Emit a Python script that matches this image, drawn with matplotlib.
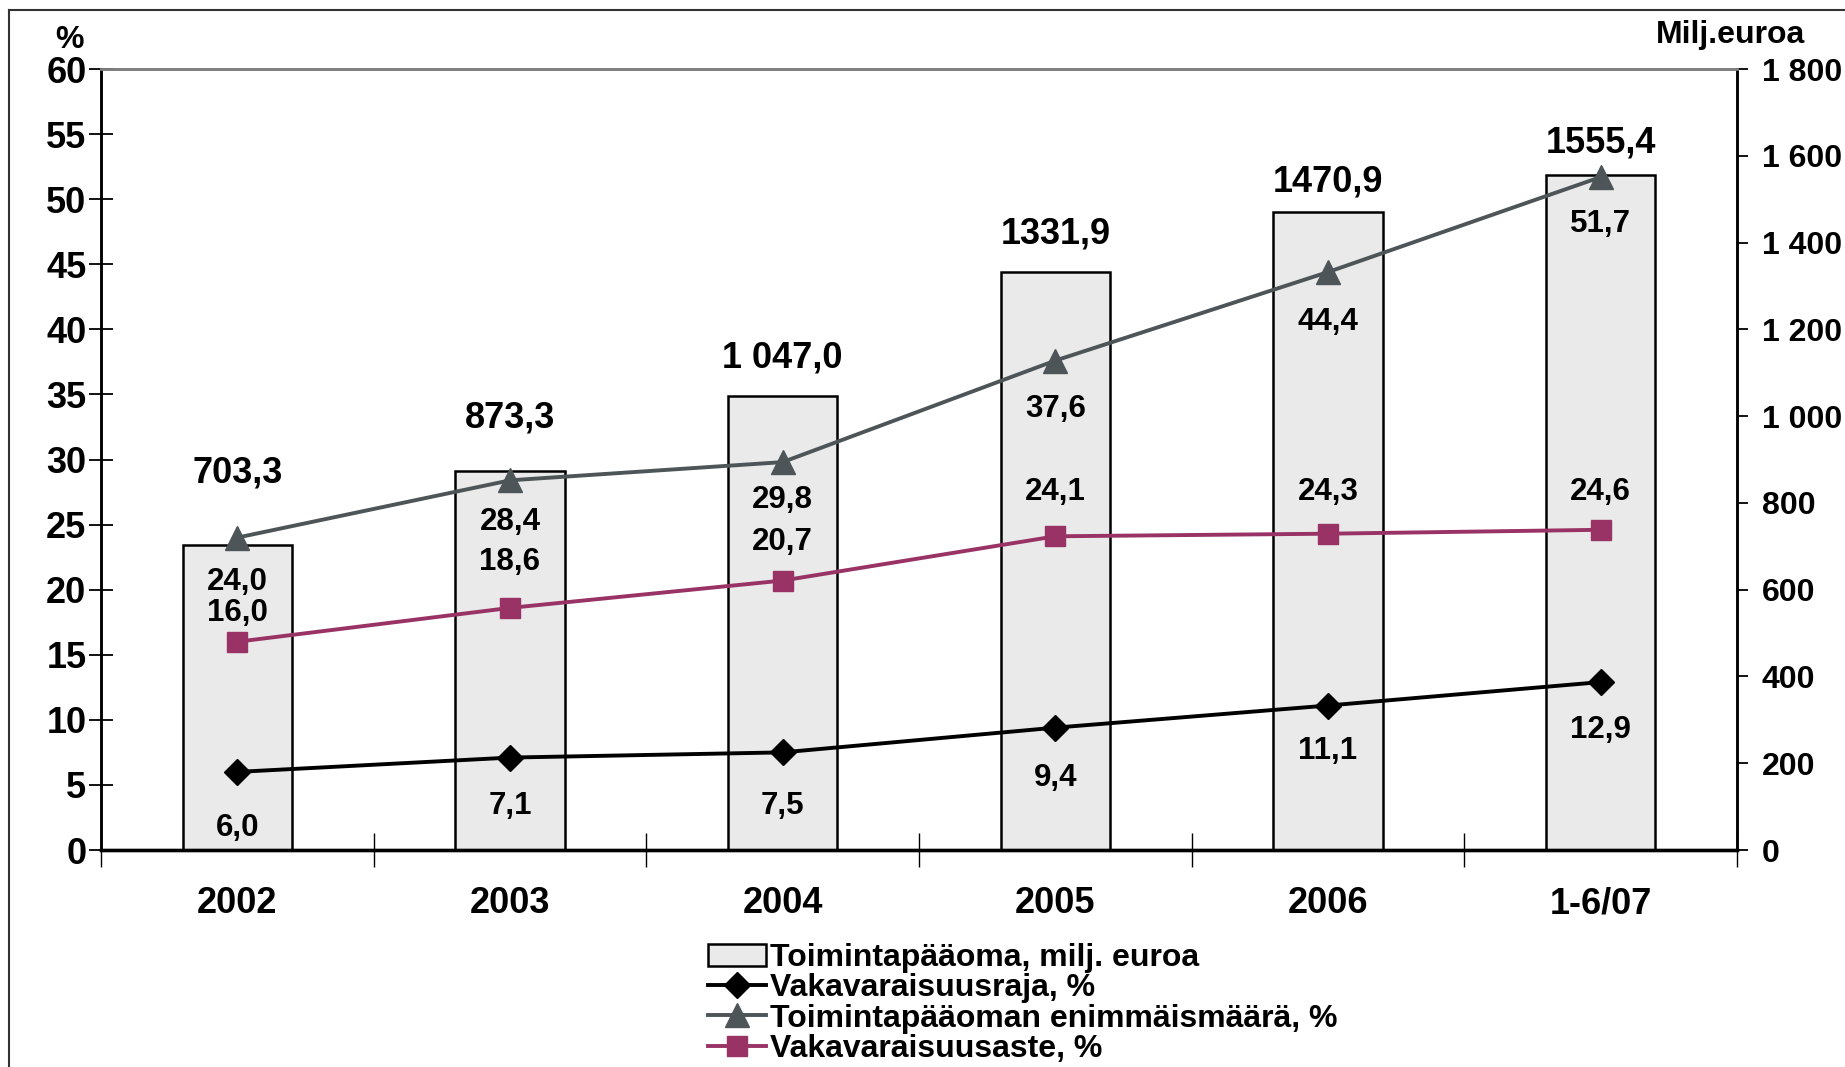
import matplotlib
matplotlib.use("Agg")
import matplotlib.pyplot as plt
from matplotlib.lines import Line2D
from matplotlib.patches import Patch
import numpy as np

plt.rcParams['font.family'] = ['Liberation Sans', 'DejaVu Sans']
plt.rcParams['font.weight'] = 'bold'

categories = ["2002", "2003", "2004", "2005", "2006", "1-6/07"]
toimintapaaoma = [703.3, 873.3, 1047.0, 1331.9, 1470.9, 1555.4]
toimintapaaoma_labels = ["703,3", "873,3", "1 047,0", "1331,9", "1470,9", "1555,4"]
vakavaraisuusraja = [6.0, 7.1, 7.5, 9.4, 11.1, 12.9]
enimmaismaara = [24.0, 28.4, 29.8, 37.6, 44.4, 51.7]
vakavaraisuusaste = [16.0, 18.6, 20.7, 24.1, 24.3, 24.6]
left_ticks = list(range(0, 61, 5))
right_ticks = list(range(0, 1801, 200))

# label offsets (in % units) -- layout only
bar_lab_off = [5.5, 4.1, 2.9, 2.9, 2.3, 2.45]
tri_lab_off = [-3.4, -3.2, -2.9, -3.7, -3.8, -3.6]
sq_lab_off = [2.2, 3.5, 3.0, 3.4, 3.2, 2.9]
dia_lab_off = [-4.3, -3.75, -4.15, -3.9, -3.5, -3.7]

def fmt(v):
    return f"{v:.1f}".replace(".", ",")

W, H = 1845, 1067
fig = plt.figure(figsize=(W / 100, H / 100), dpi=100)
ax = fig.add_axes([101 / W, 1 - 850 / H, (1737 - 101) / W, (850 - 69) / H])
ax2 = ax.twinx()

x = np.arange(len(categories))
ax2.bar(x, toimintapaaoma, width=0.4, color="#EAEAEA", edgecolor="black", linewidth=1.8, zorder=1)
ax2.set_ylim(0, 1800)
ax.set_ylim(0, 60)
ax.set_xlim(-0.5, len(categories) - 0.5)

ax.set_zorder(ax2.get_zorder() + 1)
ax.patch.set_visible(False)

c_tri = "#4D5558"
c_sq = "#993366"
ax.plot(x, vakavaraisuusraja, color="black", lw=2.8, marker="D", ms=13, zorder=5)
ax.plot(x, enimmaismaara, color=c_tri, lw=2.8, marker="^", ms=17, zorder=5)
ax.plot(x, vakavaraisuusaste, color=c_sq, lw=2.8, marker="s", ms=15, zorder=5)

lab_fs = 22.5
for i in x:
    ax.text(i, toimintapaaoma[i] / 30 + bar_lab_off[i], toimintapaaoma_labels[i],
            ha="center", va="center", fontsize=26, fontweight="bold")
    ax.text(i, enimmaismaara[i] + tri_lab_off[i], fmt(enimmaismaara[i]),
            ha="center", va="center", fontsize=lab_fs, fontweight="bold")
    ax.text(i, vakavaraisuusaste[i] + sq_lab_off[i], fmt(vakavaraisuusaste[i]),
            ha="center", va="center", fontsize=lab_fs, fontweight="bold")
    ax.text(i, vakavaraisuusraja[i] + dia_lab_off[i], fmt(vakavaraisuusraja[i]),
            ha="center", va="center", fontsize=lab_fs, fontweight="bold")

ax.set_yticks(left_ticks)
ax.set_yticklabels([str(t) for t in left_ticks], fontsize=26, fontweight="bold")
ax.tick_params(axis="y", direction="inout", length=17, width=1.3, pad=2)
ax2.set_yticks(right_ticks)
ax2.set_yticklabels([f"{t:,}".replace(",", " ") for t in right_ticks], fontsize=23, fontweight="bold")
ax2.tick_params(axis="y", direction="out", length=8, width=1.3, pad=10)

ax.set_xticks(x)
ax.set_xticklabels(categories, fontsize=26, fontweight="bold")
ax.set_xticks(np.arange(-0.5, len(categories), 1), minor=True)
ax.tick_params(axis="x", which="major", length=0, pad=26)
ax.tick_params(axis="x", which="minor", direction="inout", length=24, width=1.0)

for a in (ax, ax2):
    a.spines["top"].set_color("#808080")
    a.spines["top"].set_linewidth(2)
    a.spines["left"].set_linewidth(1.8)
    a.spines["right"].set_linewidth(1.8)
    a.spines["bottom"].set_linewidth(2.4)

fig.text(69 / W, 1 - 40 / H, "%", ha="center", va="center", fontsize=23, fontweight="bold")
fig.text(1805 / W, 1 - 35 / H, "Milj.euroa", ha="right", va="center", fontsize=23, fontweight="bold")

fig.add_artist(Line2D([9 / W, 9 / W], [0, 1 - 10 / H], color="#333333", lw=1.5, transform=fig.transFigure))
fig.add_artist(Line2D([9 / W, 1], [1 - 10 / H, 1 - 10 / H], color="#333333", lw=1.5, transform=fig.transFigure))

handles = [
    Patch(facecolor="#EAEAEA", edgecolor="black", linewidth=1.8),
    Line2D([], [], color="black", lw=2.8, marker="D", ms=13),
    Line2D([], [], color=c_tri, lw=2.8, marker="^", ms=17),
    Line2D([], [], color=c_sq, lw=2.8, marker="s", ms=15),
]
labels = ["Toimintapääoma, milj. euroa", "Vakavaraisuusraja, %",
          "Toimintapääoman enimmäismäärä, %", "Vakavaraisuusaste, %"]
leg = fig.legend(handles, labels, loc="upper left", bbox_to_anchor=(708 / W, 1 - 943 / H),
                 frameon=False, prop={"weight": "bold", "size": 23},
                 handlelength=1.8, handletextpad=0.15, labelspacing=0.01, borderpad=0,
                 borderaxespad=0)

fig.savefig("out.png", dpi=100)
